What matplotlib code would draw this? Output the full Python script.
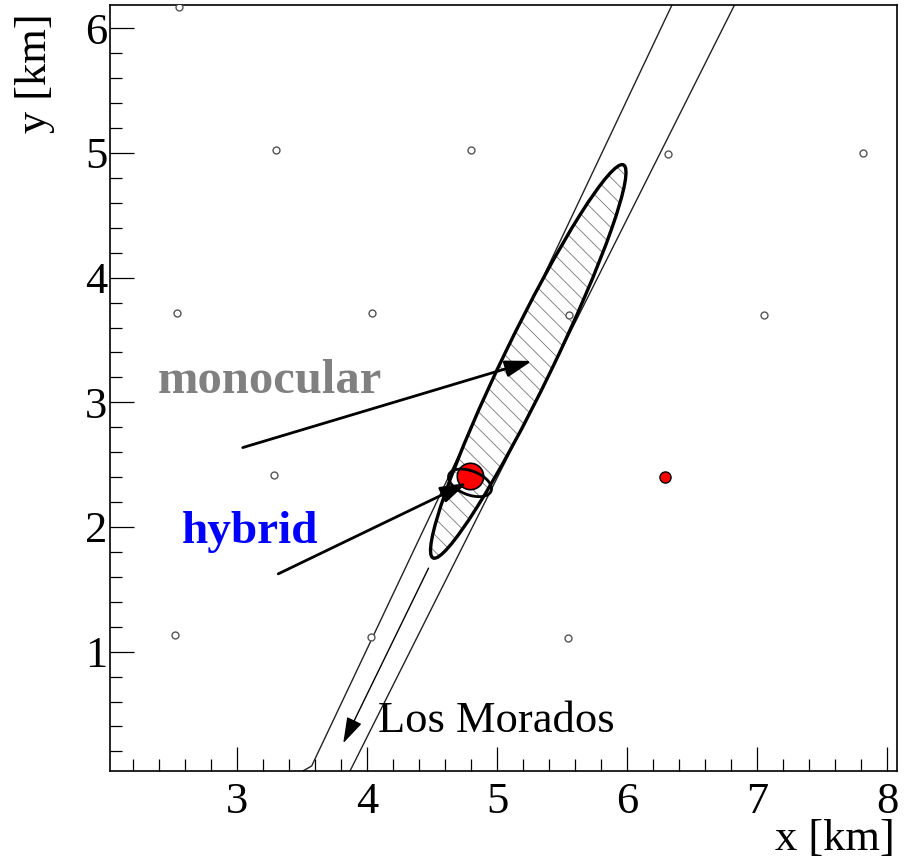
import matplotlib
matplotlib.use('Agg')
import matplotlib.pyplot as plt
from matplotlib.patches import Ellipse
from matplotlib.ticker import MultipleLocator

# ---------------- data ----------------
station_x = [2.55, 3.30, 4.80, 6.31, 7.81, 2.54, 4.04, 5.55, 7.05, 3.28, 2.52, 4.03, 5.54]
station_y = [6.17, 5.02, 5.02, 4.99, 5.00, 3.72, 3.72, 3.70, 3.70, 2.42, 1.13, 1.12, 1.11]
hit_station_x = [6.29]
hit_station_y = [2.40]
core_x = [4.79]
core_y = [2.405]

left_line_x = [3.505, 3.572, 6.342]
left_line_y = [0.043, 0.083, 6.184]
right_line_x = [3.867, 6.823]
right_line_y = [0.043, 6.184]

mono_center = (5.238, 3.328)
mono_size = (3.476, 0.38)
mono_angle = 65.1
hyb_center = (4.79, 2.354)
hyb_size = (0.35, 0.19)
hyb_angle = -22.8

mono_arrow = [(3.042, 2.637), (5.267, 3.332)]
hyb_arrow = [(3.315, 1.624), (4.767, 2.354)]
fd_arrow = [(4.471, 1.670), (3.815, 0.266)]

labels = ["monocular", "hybrid", "Los Morados"]
label_pos = [(2.39, 3.075), (2.572, 1.874), (4.082, 0.358)]

x_range = (2.021, 8.072)
y_range = (0.043, 6.184)

# ---------------- plot ----------------
plt.rcParams['font.family'] = ['Liberation Serif', 'DejaVu Serif']
plt.rcParams['hatch.linewidth'] = 0.6

fig = plt.figure(figsize=(9.09, 8.6), dpi=100)
ax = fig.add_axes([0.1210, 0.1035, 0.8655, 0.8903])

ax.plot(left_line_x, left_line_y, color='#222222', lw=1.0, zorder=1)
ax.plot(right_line_x, right_line_y, color='#222222', lw=1.0, zorder=1)

ax.add_patch(Ellipse(mono_center, mono_size[0], mono_size[1], angle=mono_angle,
                     facecolor='white', edgecolor='#777777', lw=0, hatch='\\\\', zorder=2))
ax.add_patch(Ellipse(mono_center, mono_size[0], mono_size[1], angle=mono_angle,
                     facecolor='none', edgecolor='black', lw=2.4, zorder=2.5))

ax.plot(station_x, station_y, 'o', ms=5, mfc='white', mec='#555555', mew=1.0,
        ls='none', zorder=3)
ax.plot(hit_station_x, hit_station_y, 'o', ms=8, mfc='red', mec='black', mew=1.0,
        ls='none', zorder=3)
ax.plot(core_x, core_y, 'o', ms=19, mfc='red', mec='black', mew=1.2,
        ls='none', zorder=4)

ax.add_patch(Ellipse(hyb_center, hyb_size[0], hyb_size[1], angle=hyb_angle,
                     facecolor='none', edgecolor='black', lw=2.0, zorder=5))

astyle = '-|>,head_length=0.8,head_width=0.25'
for (s, e), lw in [(mono_arrow, 2.0), (hyb_arrow, 2.0), (fd_arrow, 1.0)]:
    ax.annotate('', xy=e, xytext=s,
                arrowprops=dict(arrowstyle=astyle, mutation_scale=20, color='black',
                                lw=lw, shrinkA=0, shrinkB=0), zorder=6)

ax.text(*label_pos[0], labels[0], color='#808080', fontsize=35, fontweight='bold',
        ha='left', va='baseline', zorder=7)
ax.text(*label_pos[1], labels[1], color='#0000ff', fontsize=34, fontweight='bold',
        ha='left', va='baseline', zorder=7)
ax.text(*label_pos[2], labels[2], color='black', fontsize=32,
        ha='left', va='baseline', zorder=7)

ax.set_xlim(*x_range)
ax.set_ylim(*y_range)
ax.xaxis.set_major_locator(MultipleLocator(1))
ax.xaxis.set_minor_locator(MultipleLocator(0.2))
ax.yaxis.set_major_locator(MultipleLocator(1))
ax.yaxis.set_minor_locator(MultipleLocator(0.2))
ax.tick_params(which='both', direction='in', top=False, right=False, color='black')
ax.tick_params(which='major', length=17, width=0.9)
ax.tick_params(which='minor', length=8.5, width=0.9)
ax.tick_params(axis='x', which='major', labelsize=32, pad=8)
ax.tick_params(axis='y', which='major', labelsize=32, pad=2)
for sp in ax.spines.values():
    sp.set_linewidth(1.2)

ax.set_xlabel('x [km]', fontsize=32)
ax.xaxis.set_label_coords(0.997, -0.103)
ax.xaxis.label.set_ha('right')
ax.xaxis.label.set_va('baseline')

ax.set_ylabel('y [km]', fontsize=32)
ax.yaxis.label.set_rotation_mode('default')
ax.yaxis.set_label_coords(-0.121, 0.99)
ax.yaxis.label.set_ha('left')
ax.yaxis.label.set_va('top')

fig.savefig('out.png', dpi=100)
